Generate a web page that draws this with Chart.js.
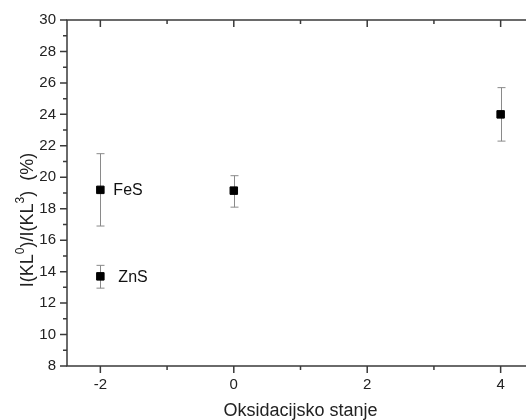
<!DOCTYPE html>
<html>
<head>
<meta charset="utf-8">
<script src="https://cdn.jsdelivr.net/npm/chart.js@4/dist/chart.umd.min.js"></script>
<style>
  html, body { margin: 0; padding: 0; background: #fff; overflow: hidden; }
  #wrap { width: 526px; height: 420px; overflow: hidden; position: relative; }
  canvas { display: block; }
</style>
</head>
<body>
<div id="wrap"><canvas id="c" width="545" height="420"></canvas></div>
<script>
// ---- data ----
const xValues    = [-2, -2, 0, 4];
const yValues    = [19.2, 13.7, 19.15, 24.0];
const errUpper   = [21.5, 14.4, 20.1, 25.7];
const errLower   = [16.9, 12.95, 18.1, 22.3];
const pointNotes = ['FeS', 'ZnS', '', ''];
const xTickMajor = [-2, 0, 2, 4];
const xTickMinor = [-1, 1, 3];
const yTickMajor = [8, 10, 12, 14, 16, 18, 20, 22, 24, 26, 28, 30];
const yTickMinor = [9, 11, 13, 15, 17, 19, 21, 23, 25, 27, 29];
const xTitle = 'Oksidacijsko stanje';
// y title pieces: [text, isSuperscript]
const yTitleParts = [['I(KL', false], ['0', true], [')/I(KL', false], ['3', true], [')  (%)', false]];

const points = xValues.map((x, i) => ({ x: x, y: yValues[i] }));

const FONT = '"Liberation Sans", Arial, sans-serif';

const errorBars = {
  id: 'errorBars',
  beforeDatasetsDraw(chart) {
    const { ctx, scales: { x, y } } = chart;
    ctx.save();
    ctx.strokeStyle = '#8a8a8a';
    ctx.lineWidth = 1;
    xValues.forEach((xv, i) => {
      const px = Math.round(x.getPixelForValue(xv)) + 0.5;
      const pt = y.getPixelForValue(errUpper[i]);
      const pb = y.getPixelForValue(errLower[i]);
      ctx.beginPath();
      ctx.moveTo(px, pt); ctx.lineTo(px, pb);
      ctx.moveTo(px - 4, pt); ctx.lineTo(px + 4, pt);
      ctx.moveTo(px - 4, pb); ctx.lineTo(px + 4, pb);
      ctx.stroke();
    });
    ctx.restore();
  },
  afterDatasetsDraw(chart) {
    const { ctx, scales: { x, y } } = chart;
    ctx.save();
    ctx.fillStyle = '#111';
    ctx.font = '16px ' + FONT;
    ctx.textBaseline = 'middle';
    ctx.textAlign = 'left';
    const offs = [13, 18, 0, 0];
    pointNotes.forEach((t, i) => {
      if (!t) return;
      ctx.fillText(t, x.getPixelForValue(xValues[i]) + offs[i], y.getPixelForValue(yValues[i]) + 1);
    });
    ctx.restore();
  },
  afterDraw(chart) {
    const { ctx, chartArea: a, scales: { x, y } } = chart;
    ctx.save();
    ctx.strokeStyle = '#3a3a3a';
    ctx.lineWidth = 1.5;
    ctx.beginPath();
    ctx.rect(a.left, a.top, a.right - a.left, a.bottom - a.top);
    ctx.stroke();
    ctx.beginPath();
    xTickMajor.forEach(v => {
      const p = x.getPixelForValue(v);
      ctx.moveTo(p, a.bottom); ctx.lineTo(p, a.bottom + 7);
      ctx.moveTo(p, a.top); ctx.lineTo(p, a.top + 7);
    });
    xTickMinor.forEach(v => {
      const p = x.getPixelForValue(v);
      ctx.moveTo(p, a.bottom); ctx.lineTo(p, a.bottom + 4);
      ctx.moveTo(p, a.top); ctx.lineTo(p, a.top + 4);
    });
    yTickMajor.forEach(v => {
      const p = y.getPixelForValue(v);
      ctx.moveTo(a.left, p); ctx.lineTo(a.left - 7, p);
      ctx.moveTo(a.right, p); ctx.lineTo(a.right - 7, p);
    });
    yTickMinor.forEach(v => {
      const p = y.getPixelForValue(v);
      ctx.moveTo(a.left, p); ctx.lineTo(a.left - 4, p);
      ctx.moveTo(a.right, p); ctx.lineTo(a.right - 4, p);
    });
    ctx.stroke();

    // y axis title with real superscripts
    const base = 18, sup = 12;
    let total = 0;
    yTitleParts.forEach(([t, s]) => {
      ctx.font = (s ? sup : base) + 'px ' + FONT;
      total += ctx.measureText(t).width;
    });
    const cy = 220;
    ctx.translate(33, cy);
    ctx.rotate(-Math.PI / 2);
    ctx.fillStyle = '#222';
    ctx.textBaseline = 'alphabetic';
    ctx.textAlign = 'left';
    let cx = -total / 2;
    yTitleParts.forEach(([t, s]) => {
      ctx.font = (s ? sup : base) + 'px ' + FONT;
      ctx.fillText(t, cx, s ? -9 : 0);
      cx += ctx.measureText(t).width;
    });
    ctx.restore();
  }
};

new Chart(document.getElementById('c'), {
  type: 'scatter',
  data: {
    datasets: [{
      data: points,
      pointStyle: 'rect',
      radius: 5.3,
      hoverRadius: 5.3,
      backgroundColor: '#000',
      borderColor: '#000',
      borderWidth: 1
    }]
  },
  options: {
    responsive: false,
    animation: false,
    events: [],
    layout: { padding: { left: 0, right: 11, top: 20, bottom: 0 } },
    plugins: { legend: { display: false }, tooltip: { enabled: false } },
    scales: {
      x: {
        type: 'linear',
        min: -2.5, max: 4.5,
        afterFit(s) { s.height = 54; },
        afterBuildTicks(s) { s.ticks = xTickMajor.map(v => ({ value: v })); },
        grid: { display: false, drawTicks: false },
        border: { display: false },
        ticks: { color: '#222', font: { family: FONT, size: 15 }, padding: 10, maxRotation: 0 },
        title: { display: true, text: xTitle, color: '#222', font: { family: FONT, size: 18, lineHeight: 1 }, padding: { top: 0, bottom: 0 } }
      },
      y: {
        type: 'linear',
        min: 8, max: 30,
        afterFit(s) { s.width = 67; },
        afterBuildTicks(s) { s.ticks = yTickMajor.map(v => ({ value: v })); },
        grid: { display: false, drawTicks: false },
        border: { display: false },
        ticks: { color: '#222', font: { family: FONT, size: 15 }, padding: 11 }
      }
    }
  },
  plugins: [errorBars]
});
</script>
</body>
</html>
